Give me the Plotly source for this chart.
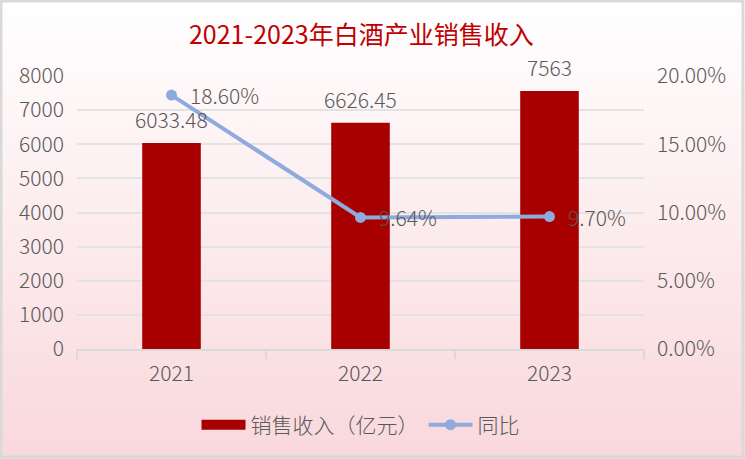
import plotly.graph_objects as go
import urllib.parse

# ---- data ----
years = ["2021", "2022", "2023"]
revenue = [6033.48, 6626.45, 7563]
growth = [0.186, 0.0964, 0.097]
revenue_labels = ["6033.48", "6626.45", "7563"]
growth_labels = ["18.60%", "9.64%", "9.70%"]

W, H = 745, 459
L, R, T, B = 77, 101, 76, 110
pw, ph = W - L - R, H - T - B

FONT = "Noto Sans CJK SC"
GRAY = "#595959"
BAR = "#A80000"
LINE = "#8FAADC"
FS = 21

svg = (
    f'<svg xmlns="http://www.w3.org/2000/svg" width="{W}" height="{H}" viewBox="0 0 {W} {H}">'
    '<defs><linearGradient id="g" x1="0" y1="0" x2="0" y2="1">'
    '<stop offset="0" stop-color="#FFFFFF"/><stop offset="1" stop-color="#F9D8DC"/>'
    '</linearGradient></defs>'
    f'<rect x="0" y="0" width="{W}" height="{H}" fill="url(#g)"/>'
    f'<rect x="1" y="1" width="{W-3}" height="{H-3}" fill="none" stroke="#D9D9D9" stroke-width="3"/>'
    '</svg>'
)
bg_src = "data:image/svg+xml;charset=utf-8," + urllib.parse.quote(svg)

fig = go.Figure()
fig.add_trace(go.Bar(
    x=years, y=revenue, name="销售收入（亿元）", showlegend=False,
    marker=dict(color=BAR, line=dict(width=0)),
    width=0.31,
))
# legend entry for the bars (wide red swatch)
fig.add_trace(go.Scatter(
    x=[years[0]], y=[None], name="销售收入（亿元）", mode="lines",
    line=dict(color=BAR, width=14),
))
fig.add_trace(go.Scatter(
    x=years, y=growth, name="同比", yaxis="y2",
    mode="lines+markers",
    line=dict(color=LINE, width=4),
    marker=dict(color=LINE, size=11),
    cliponaxis=False,
))

# category axis: annotation x uses category index
annotations = []
for i, (v, t) in enumerate(zip(revenue, revenue_labels)):
    annotations.append(dict(x=i, y=v, xref="x", yref="y", text=t, showarrow=False,
                            xanchor="center", yanchor="bottom", yshift=7,
                            font=dict(family=FONT, size=FS, color=GRAY, weight=300)))
for i, (v, t) in enumerate(zip(growth, growth_labels)):
    annotations.append(dict(x=i, y=v, xref="x", yref="y2", text=t, showarrow=False,
                            xanchor="left", yanchor="middle", xshift=16,
                            font=dict(family=FONT, size=FS, color=GRAY, weight=300)))

fig.update_layout(
    width=W, height=H,
    margin=dict(l=L, r=R, t=T, b=B),
    paper_bgcolor="white",
    plot_bgcolor="rgba(0,0,0,0)",
    font=dict(family=FONT, color=GRAY, size=FS, weight=300),
    title=dict(text="2021-2023年白酒产业销售收入", x=0.485, xanchor="center",
               y=1 - 35 / H, yanchor="middle",
               font=dict(family=FONT, size=25, color="#C00000", weight=400)),
    showlegend=True,
    legend=dict(orientation="h", x=0.5, xanchor="center", y=-(425 - (T + ph)) / ph,
                yanchor="middle", bgcolor="rgba(0,0,0,0)", itemwidth=44,
                font=dict(family=FONT, size=FS, color=GRAY, weight=300)),
    annotations=annotations,
    xaxis=dict(
        type="category", categoryorder="array", categoryarray=years,
        range=[-0.5, len(years) - 0.5],
        showline=True, linecolor="#D9D9D9", linewidth=2,
        ticks="outside", tickson="boundaries", ticklen=8, tickcolor="#D9D9D9", tickwidth=2,
        showgrid=False, tickfont=dict(size=FS, color=GRAY), ticklabelstandoff=5,
        tickangle=0,
    ),
    yaxis=dict(
        range=[0, 8000], dtick=1000, showgrid=True, gridcolor="#E3E3E3", gridwidth=1.5,
        zeroline=False, showline=False, ticks="", tickfont=dict(size=FS, color=GRAY),
        ticklabelstandoff=12,
    ),
    yaxis2=dict(
        range=[0, 0.2], dtick=0.05, tickformat=".2%", overlaying="y", side="right",
        showgrid=False, zeroline=False, showline=False, ticks="",
        tickfont=dict(size=FS, color=GRAY), ticklabelstandoff=12,
    ),
    images=[dict(
        source=bg_src, xref="paper", yref="paper",
        x=-L / pw, y=1 + T / ph, sizex=W / pw, sizey=H / ph,
        xanchor="left", yanchor="top", sizing="stretch", layer="below",
    )],
)

fig.write_html("out.html")
